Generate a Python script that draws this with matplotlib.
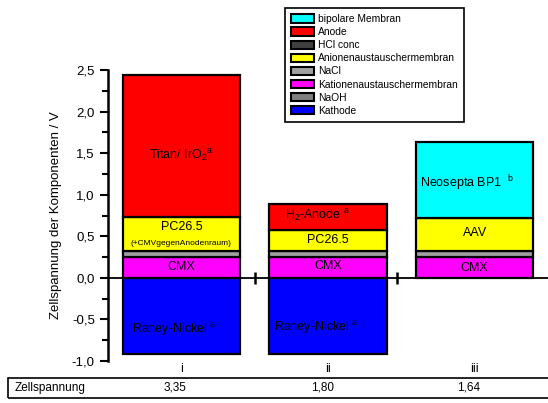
import matplotlib
matplotlib.use("Agg")
import matplotlib.pyplot as plt
import matplotlib.transforms as mtransforms
from matplotlib.patches import Patch, Rectangle
from matplotlib.ticker import MultipleLocator, FuncFormatter
import numpy as np

plt.rcParams['font.family'] = ['Liberation Sans', 'DejaVu Sans']
plt.rcParams['mathtext.fontset'] = 'custom'
plt.rcParams['mathtext.rm'] = 'Liberation Sans'
plt.rcParams['mathtext.it'] = 'Liberation Sans:italic'

# Daten (Spannungsanteile in V)
categories = ["i", "ii", "iii"]
kathode = [-0.91, -0.91, 0.0]
cmx = [0.25, 0.25, 0.25]
nacl = [0.07, 0.07, 0.07]
aem = [0.41, 0.25, 0.40]
anode = [1.71, 0.32, 0.0]
bipolar = [0.0, 0.0, 0.92]
zellspannung = ["3,35", "1,80", "1,64"]

legend_labels = ["bipolare Membran", "Anode", "HCl conc", "Anionenaustauschermembran",
                 "NaCl", "Kationenaustauschermembran", "NaOH", "Kathode"]
legend_colors = ["#00ffff", "#ff0000", "#404040", "#ffff00",
                 "#a0a0a0", "#ff00ff", "#808080", "#0000ff"]

fig = plt.figure(figsize=(5.48, 4.03), dpi=100)
ax = fig.add_axes([108 / 548, 42 / 403, 440 / 548, 291 / 403])

x = np.arange(1, len(categories) + 1)
w = 0.8
lw = 1.6

# Kathode nach unten
kx = [xi for xi, k in zip(x, kathode) if k != 0]
kv = [k for k in kathode if k != 0]
ax.bar(kx, kv, w, color="#0000ff", edgecolor="black", linewidth=lw)

bottom = np.zeros(len(x))
for vals, col in [(cmx, "#ff00ff"), (nacl, "#a0a0a0"), (aem, "#ffff00"),
                  (anode, "#ff0000"), (bipolar, "#00ffff")]:
    vals = np.array(vals)
    m = vals > 0
    ax.bar(x[m], vals[m], w, bottom=bottom[m], color=col, edgecolor="black", linewidth=lw)
    bottom = bottom + vals

ax.set_xlim(0.5, 3.5)
ax.set_ylim(-1.0, 2.5)
ax.yaxis.set_major_locator(MultipleLocator(0.5))
ax.yaxis.set_minor_locator(MultipleLocator(0.25))
ax.yaxis.set_major_formatter(FuncFormatter(lambda v, p: f"{v:.1f}".replace(".", ",")))
ax.tick_params(axis="y", which="major", length=6, width=1.5, labelsize=9.5, direction="out")
ax.tick_params(axis="y", which="minor", length=4, width=1.5, direction="out")

ax.spines["top"].set_visible(False)
ax.spines["right"].set_visible(False)
ax.spines["left"].set_linewidth(1.8)
ax.spines["bottom"].set_position(("data", 0))
ax.spines["bottom"].set_linewidth(1.3)
ax.set_xticks([1.5, 2.47])
ax.set_xticklabels([])
ax.tick_params(axis="x", direction="inout", length=9, width=1.8)

ax.set_ylabel("Zellspannung der Komponenten / V", fontsize=9.5, labelpad=7)

for xi, c in zip(x, categories):
    ax.text(xi, -1.03, c, ha="center", va="top", fontsize=9)

nf = ['Liberation Sans Narrow', 'Liberation Sans']
ts = 9
# Beschriftungen Balken i
ax.text(1, 1.47, r"Titan/ IrO$_2$$^{\rm a}$", ha="center", va="center", fontsize=ts, family=nf)
ax.text(1, 0.61, "PC26.5", ha="center", va="center", fontsize=ts, family=nf)
ax.text(1, 0.41, "(+CMVgegenAnodenraum)", ha="center", va="center", fontsize=6, family=nf)
ax.text(1, 0.13, "CMX", ha="center", va="center", fontsize=ts, family=nf)
ax.text(0.95, -0.62, r"Raney-Nickel $^{\rm a}$", ha="center", va="center", fontsize=ts, family=nf)
# Balken ii
ax.text(1.93, 0.75, r"H$_2$-Anode $^{\rm a}$", ha="center", va="center", fontsize=ts, family=nf)
ax.text(2, 0.46, "PC26.5", ha="center", va="center", fontsize=ts, family=nf)
ax.text(2, 0.14, "CMX", ha="center", va="center", fontsize=ts, family=nf)
ax.text(1.92, -0.6, r"Raney-Nickel $^{\rm a}$", ha="center", va="center", fontsize=ts, family=nf)
# Balken iii
ax.text(2.95, 1.14, r"Neosepta BP1  $^{\rm b}$", ha="center", va="center", fontsize=ts, family=nf)
ax.text(3, 0.54, "AAV", ha="center", va="center", fontsize=ts, family=nf)
ax.text(3, 0.12, "CMX", ha="center", va="center", fontsize=ts, family=nf)

handles = [Patch(facecolor=c, edgecolor="black", linewidth=1.5) for c in legend_colors]
leg = fig.legend(handles, legend_labels, loc="upper left",
                 bbox_to_anchor=(285 / 548, 1 - 8 / 403), fontsize=7.4,
                 frameon=True, fancybox=False, framealpha=1, labelspacing=0.3,
                 handlelength=2.2, handleheight=0.9, handletextpad=0.4,
                 borderpad=0.6, borderaxespad=0)
leg.get_frame().set_edgecolor("black")
leg.get_frame().set_linewidth(1.2)

# Tabelle Zellspannung
fig.patches.append(Rectangle((8 / 548, 1 - 398 / 403), 545 / 548, 20 / 403,
                             transform=fig.transFigure, fill=False,
                             edgecolor="black", linewidth=1.2))
fig.text(15 / 548, 1 - 388 / 403, "Zellspannung", ha="left", va="center", fontsize=8.5)
tr = mtransforms.blended_transform_factory(ax.transData, fig.transFigure)
for xi, z in zip(x, zellspannung):
    ax.text(xi - 0.04, 1 - 388 / 403, z, ha="center", va="center", fontsize=8.5,
            transform=tr, clip_on=False)

fig.savefig("out.png", dpi=100)
